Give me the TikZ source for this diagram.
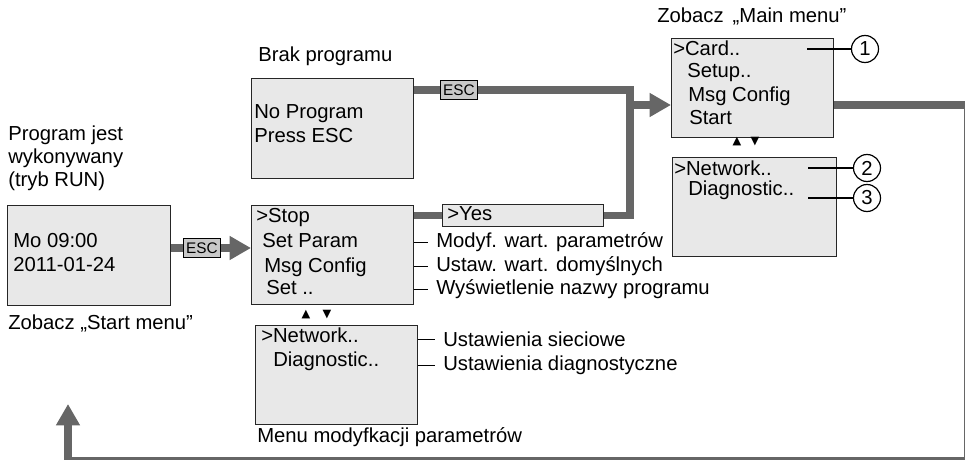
\documentclass[tikz,border=0pt]{standalone}
\usepackage{fontspec}
\setmainfont{Liberation Sans}
\newfontfamily\symb{DejaVu Sans}
\usetikzlibrary{arrows.meta}
\definecolor{lcdgray}{HTML}{E8E8E8}
\definecolor{flowgray}{HTML}{666666}
\definecolor{escgray}{HTML}{C8C8C8}
\pgfdeclarelayer{bg}
\pgfsetlayers{bg,main}
\tikzset{
  lcdbox/.style 2 args={draw=black!85, fill=lcdgray, line width=0.9pt, inner sep=0pt,
    minimum width=#1*0.75pt, minimum height=#2*0.75pt, anchor=north west},
  txt/.style={anchor=mid west, inner sep=0pt, yshift=-1.8pt},
  lbl/.style={anchor=mid west, inner ysep=0pt, inner xsep=6pt, yshift=-1.8pt},
  flow/.style={draw=flowgray, line width=5.5pt, line join=miter},
  tip/.style={-{Triangle[length=16pt,width=17pt]}},
  escbox/.style={draw=black, fill=escgray, line width=0.8pt, inner sep=0pt,
    minimum width=37*0.75pt, minimum height=19*0.75pt, font=\fontsize{11.5}{12}\selectfont},
  thinline/.style={draw=black, line width=0.9pt},
  num/.style={circle, draw=black, line width=0.9pt, minimum size=27*0.75pt, inner sep=0pt, fill=white},
  arr/.style={inner sep=0pt, font=\symb\fontsize{8.5}{9}\selectfont},
  every node/.style={font=\fontsize{15.2}{18}\selectfont}
}
\begin{document}
\begin{tikzpicture}[x=0.75pt, y=-0.75pt]
\useasboundingbox (0,0) rectangle (965,460);

% left texts
\node[txt] (pj1) at (8,135) {Program jest};
\node[txt] (pj2) at (8,158) {wykonywany};
\node[txt] (pj3) at (8,181) {(tryb RUN)};
\node[txt] (zs) at (8,324) {Zobacz „Start menu”};

% Mo box
\node[lcdbox={163}{100}] (mo) at (7,205) {};
\node[txt] (mo1) at (13,242) {Mo 09:00};
\node[txt] (mo2) at (13,266) {2011-01-24};

% No Program box
\node[txt] (bp) at (258,56) {Brak programu};
\node[lcdbox={162}{100}] (noprog) at (251,78) {};
\node[txt] (np1) at (254,113) {No Program};
\node[txt] (np2) at (254,137) {Press ESC};

% Stop box
\node[lcdbox={162}{99}] (stop) at (251,205) {};
\node[txt] (s1) at (256,217) {>Stop};
\node[txt] (s2) at (262,242) {Set Param};
\node[txt] (s3) at (264,267) {Msg Config};
\node[txt] (s4) at (266,289) {Set ..};
\node[arr] (su) at (306,315) {▲};
\node[arr] (sd) at (327,315) {▼};

% Yes box
\node[lcdbox={161}{22}] (yes) at (442,204) {};
\node[txt] (y1) at (447,215) {>Yes};

% labels right of stop box
\node[lbl] (l1) at (428,242) {Modyf. wart. parametrów};
\node[lbl] (l2) at (428,266) {Ustaw. wart. domyślnych};
\node[lbl] (l3) at (428,289) {Wyświetlenie nazwy programu};
\draw[thinline] (stop.east |- l1) -- (l1.west);
\draw[thinline] (stop.east |- l2) -- (l2.west);
\draw[thinline] (stop.east |- l3) -- (l3.west);

% Network box (parameters)
\node[lcdbox={162}{99}] (netp) at (255,325) {};
\node[txt] (n1) at (261,337) {>Network..};
\node[txt] (n2) at (273,361) {Diagnostic..};
\node[lbl] (l4) at (435,341) {Ustawienia sieciowe};
\node[lbl] (l5) at (435,365) {Ustawienia diagnostyczne};
\draw[thinline] (netp.east |- l4) -- (l4.west);
\draw[thinline] (netp.east |- l5) -- (l5.west);
\node[txt] (mm) at (257,437) {Menu modyfkacji parametrów};

% Main menu
\node[txt] (zm) at (657,17) {Zobacz \,„Main menu”};
\node[lcdbox={162}{99}] (mainm) at (671,38) {};
\node[txt] (m1) at (673,50) {>Card..};
\node[txt] (m2) at (687,72) {Setup..};
\node[txt] (m3) at (688,96) {Msg Config};
\node[txt] (m4) at (689,119) {Start};
\node[arr] (mu) at (737,142) {▲};
\node[arr] (md) at (755,142) {▼};
\node[lcdbox={164}{99}] (netm) at (672,157) {};
\node[txt] (k1) at (674,170) {>Network..};
\node[txt] (k2) at (688,190) {Diagnostic..};

% callouts
\coordinate (c1s) at (807,49);
\coordinate (c2s) at (808,168);
\coordinate (c3s) at (808,198);
\node[num] (c1) at (865,49) {1};
\node[num] (c2) at (867,168) {2};
\node[num] (c3) at (867,198) {3};
\draw[thinline] (c1s) -- (c1);
\draw[thinline] (c2s) -- (c2);
\draw[thinline] (c3s) -- (c3);

% ESC labels
\node[escbox] (esc1) at (202,248) {ESC};
\node[escbox] (esc2) at (459,90) {ESC};

% junctions
\coordinate (j1) at (630,90);
\coordinate (j2) at (630,105);
\coordinate (r1) at (968,105);
\coordinate (r2) at (968,461);
\coordinate (r3) at (68,461);
\coordinate (r4) at (68,404);

\begin{pgfonlayer}{bg}
\draw[flow, tip] (mo.east |- esc1) -- (stop.west |- esc1);
\draw[flow] (noprog.east |- esc2) -- (j1) |- (yes.east);
\draw[flow] (stop.east |- yes) -- (yes.west);
\draw[flow, tip] (j2) -- (mainm.west |- j2);
\draw[flow, tip] (mainm.east |- j2) -- (r1) -- (r2) -- (r3) -- (r4);
\end{pgfonlayer}
\end{tikzpicture}
\end{document}
